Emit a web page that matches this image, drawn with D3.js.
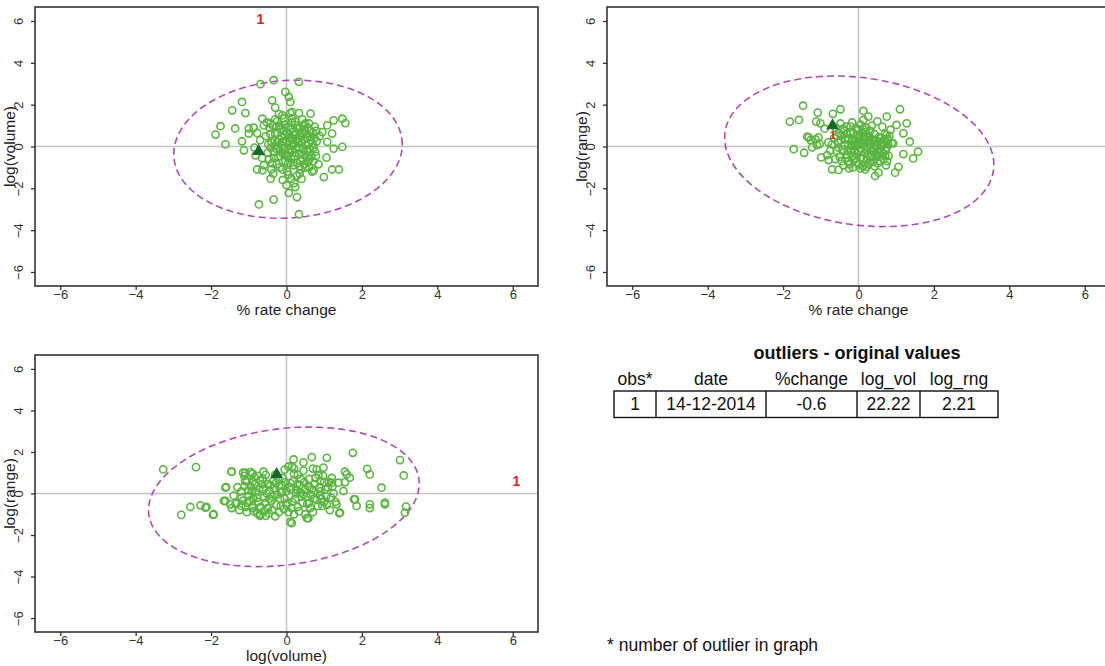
<!DOCTYPE html>
<html>
<head>
<meta charset="utf-8">
<script src="https://cdn.jsdelivr.net/npm/d3@7"></script>
<style>
  body { margin: 0; background: #fff; }
  svg { display: block; font-family: "Liberation Sans", Arial, sans-serif; }
</style>
</head>
<body>
<svg id="chart" width="1105" height="666"></svg>
<script>
// ---- data (data units) ----
var ticks = [-6, -4, -2, 0, 2, 4, 6];

// top-left: % rate change vs log(volume)
var changeVolume = [
  [-0.34,3.17],[-0.69,2.98],[0.33,3.09],[-0.03,2.61],[0.06,2.37],[-0.38,2.21],[-0.3,1.86],[0.1,2.13],
  [-1.18,2.13],[-1.44,1.73],[-1.09,1.6],[-1.75,0.97],[-1.88,0.57],[-1.36,0.86],[-1.62,0.1],[-1.18,0.25],
  [-1.0,0.86],[-0.87,0.9],[-1.0,0.62],[-0.78,0.65],[-1.13,-0.18],[-0.82,-0.42],[-0.78,-1.1],[-0.64,-1.14],
  [-0.73,-2.77],[-0.34,-2.54],[0.33,-3.24],[0.06,-2.22],[0.28,-2.42],[0.23,-1.94],[-0.42,-1.54],[0.72,-1.14],
  [0.99,-1.46],[1.21,-1.1],[1.39,-1.1],[1.06,-0.53],[1.25,-0.1],[1.48,-0.02],[1.08,0.22],[0.95,0.69],
  [1.08,1.01],[1.25,1.25],[1.48,1.33],[1.56,1.12],[1.21,0.62],[0.64,1.57],[0.33,1.6],[0.15,1.65],
  [-0.11,1.49],[-0.64,1.33],[-0.6,1.01],[-0.43,1.1],[-0.85,-0.05],[-0.7,0.3],[-0.65,-0.55],
  [-0.55,0.5],[-0.5,-0.3],[-0.45,0.9],[-0.4,0.2],[-0.38,-0.8],[-0.35,-1.3],[-0.3,0.6],[-0.28,-0.1],
  [-0.25,1.2],[-0.22,-0.5],[-0.2,0.35],[-0.18,-1.0],[-0.15,0.85],[-0.12,0.05],[-0.1,-0.35],[-0.08,1.35],
  [-0.05,0.55],[-0.03,-0.7],[0,0.2],[0.02,-1.2],[0.05,0.95],[0.07,-0.15],[0.1,0.45],[0.12,-0.55],
  [0.14,1.15],[0.16,0.1],[0.18,-0.9],[0.2,0.7],[0.22,-0.3],[0.25,0.3],[0.27,-1.4],[0.3,1.0],
  [0.32,-0.05],[0.35,0.55],[0.37,-0.7],[0.4,0.2],[0.42,1.3],[0.45,-0.4],[0.48,0.8],[0.5,-1.0],
  [0.52,0.05],[0.55,0.45],[0.58,-0.25],[0.6,1.1],[0.62,-0.6],[0.65,0.3],[0.68,-1.2],[0.7,0.65],
  [0.72,-0.05],[0.75,0.95],[0.78,-0.45],[0.8,0.25],[0.85,-0.85],[0.88,0.5],[-0.6,-0.9],[-0.52,1.15],
  [-0.42,-0.05],[-0.33,-0.55],[-0.27,0.95],[-0.17,-0.2],[-0.07,0.75],[0.03,-0.45],[0.08,0.25],[0.13,-1.55],
  [0.19,0.55],[0.24,-0.1],[0.29,0.85],[0.34,-0.95],[0.39,0.45],[0.44,-0.15],[0.49,1.1],[0.54,-0.5],
  [0.59,0.15],[0.64,0.75],[-0.1,-1.6],[0.0,-1.85],[0.2,-1.75],[0.1,1.6],[-0.2,1.55],[0.4,-1.55],
  [-0.48,0.1],[-0.46,-0.6],[-0.43,0.6],[-0.36,1.0],[-0.34,-0.25],[-0.31,0.3],[-0.26,-0.85],[-0.24,0.65],
  [-0.21,-0.05],[-0.19,1.0],[-0.16,-0.45],[-0.14,0.5],[-0.11,-1.1],[-0.09,0.25],[-0.06,-0.1],[-0.04,1.05],
  [-0.01,-0.45],[0.01,0.65],[0.04,-0.8],[0.06,0.4],[0.09,-0.3],[0.11,0.85],[0.15,-0.15],[0.17,0.35],
  [0.21,-0.45],[0.23,1.2],[0.26,0.6],[0.28,-0.8],[0.31,0.2],[0.33,-0.35],[0.36,0.9],[0.38,-1.1],
  [0.41,0.65],[0.43,-0.6],[0.46,0.35],[0.47,-0.85],[0.51,0.6],[0.53,-0.2],[0.56,0.9],[0.57,-0.75],
  [0.61,-0.1],[0.63,0.5],[0.66,-0.45],[0.69,0.15],[0.71,-0.7],[0.74,0.4],[0.76,-0.25],[0.79,0.75],
  [-0.02,0.9],[0.1,-0.8],[0.3,0.35],[0.2,0.1],[-0.25,0.2],[0.05,-1.35],[0.45,1.0],[-0.4,-1.1],
  [0.6,-1.0],[0.15,1.35],[-0.3,1.3],[0.35,-1.3]
];

// top-right: % rate change vs log(range)
var changeRange = [
  [-1.47,1.95],[-1.82,1.19],[-1.58,1.27],[-1.08,1.62],[-0.68,1.56],[-0.48,1.78],[-1.12,1.19],[-1.01,1.11],
  [-1.36,0.47],[-1.27,0.31],[-1.14,0.34],[-1.03,0.12],[-1.72,-0.13],[-1.44,-0.3],[-1.23,-0.04],[-0.99,-0.52],
  [-0.83,-0.41],[-0.79,-0.65],[-0.7,-1.09],[-0.53,-1.12],[0.75,1.43],[1.1,1.78],[1.28,1.11],[1.01,1.03],
  [1.19,0.63],[1.36,0.23],[1.58,-0.25],[1.19,-0.36],[1.45,-0.57],[1.06,-0.97],[0.97,-1.25],[0.53,-1.25],
  [0.44,-1.41],[0.22,-0.97],[0.75,0.55],[0.92,0.15],[0.26,1.43],[0.13,1.27],[-1.32,0.44],[-1.06,0.44],
  [-1.1,0.07],[0.13,1.7],[-0.9,0.85],[-0.8,0.2],[-0.75,-0.2],
  [-0.6,0.9],[-0.55,0.2],[-0.5,-0.5],[-0.48,1.1],[-0.45,0.55],[-0.42,-0.15],[-0.4,-0.9],[-0.35,0.35],
  [-0.32,0.95],[-0.3,-0.4],[-0.27,0.1],[-0.25,-1.05],[-0.22,0.7],[-0.2,-0.2],[-0.17,1.15],[-0.15,0.4],
  [-0.12,-0.65],[-0.1,0.05],[-0.07,0.85],[-0.05,-0.35],[-0.02,0.55],[0,-0.85],[0.03,0.2],[0.05,1.05],
  [0.08,-0.1],[0.1,0.65],[0.13,-0.55],[0.15,0.3],[0.18,-1.1],[0.2,0.9],[0.23,0.0],[0.25,-0.4],
  [0.28,0.5],[0.3,-0.75],[0.33,0.15],[0.35,1.0],[0.38,-0.25],[0.4,0.3],[0.43,-0.95],[0.45,0.05],
  [0.48,-0.5],[0.5,1.2],[0.53,0.25],[0.55,-0.15],[0.58,-0.7],[0.6,0.4],[0.63,0.95],[0.65,-0.35],
  [0.68,0.1],[0.7,0.6],[0.73,-0.9],[0.75,-0.05],[0.78,0.35],[0.8,-0.45],[0.85,0.8],[0.88,0.15],
  [-0.58,-0.2],[-0.52,0.65],[-0.38,0.75],[-0.28,-0.7],[-0.18,0.25],[-0.08,-0.55],[0.02,0.4],[0.12,0.85],
  [0.22,-0.6],[0.32,-0.05],[0.42,0.6],[0.52,-0.3],[0.62,0.2],[0.72,-0.2],[-0.65,0.4],[-0.62,-0.6],[-0.7,0.1],
  [-0.57,0.5],[-0.53,-0.05],[-0.47,0.3],[-0.44,-0.7],[-0.41,0.85],[-0.37,0.05],[-0.34,-0.55],[-0.31,0.6],
  [-0.29,-0.15],[-0.26,0.35],[-0.23,-0.85],[-0.21,0.95],[-0.19,0.0],[-0.16,-0.45],[-0.14,0.65],[-0.11,-0.2],
  [-0.09,0.3],[-0.06,-0.75],[-0.04,0.2],[-0.01,0.8],[0.01,-0.2],[0.04,0.55],[0.06,-0.55],[0.09,0.15],
  [0.11,-0.95],[0.14,0.45],[0.16,-0.3],[0.19,0.7],[0.21,-0.15],[0.24,0.25],[0.26,-0.85],[0.29,0.1],
  [0.31,0.75],[0.34,-0.5],[0.36,0.35],[0.39,-0.75],[0.41,-0.1],[0.44,0.25],[0.46,-0.35],[0.49,0.05],
  [0.51,-0.8],[0.54,0.45],[0.56,-0.5],[0.59,0.05],[0.61,-0.25],[0.64,0.15],[0.66,-0.6],[0.69,0.35],
  [0.71,-0.45],[0.74,0.2],[0.76,-0.7],[0.79,0.1],[0.82,0.5],[-0.05,0.0],[0.0,0.1],[0.1,0.35],
  [0.2,0.45],[0.3,0.3],[-0.15,-1.0],[0.05,-1.05]
];

// bottom-left: log(volume) vs log(range)
var volumeRange = [
  [-3.27,1.16],[-2.4,1.27],[-2.79,-1.03],[-2.55,-0.65],[-2.28,-0.57],[-2.12,-0.65],[-1.95,-1.03],[-1.6,0.31],
  [-1.46,1.05],[-1.09,1.0],[-0.95,1.03],[-1.05,0.6],[-0.9,0.55],[-1.62,-0.36],[-1.49,-0.52],[-1.32,-0.45],
  [-1.2,-0.6],[-1.02,-0.45],[-0.9,-0.7],[-0.78,-0.95],[-0.55,-1.08],[-0.61,1.05],[-0.78,0.85],[-0.7,0.62],
  [0.14,-1.43],[0.58,-1.19],[0.67,1.75],[1.07,1.72],[1.76,1.96],[1.55,1.05],[1.6,0.92],[1.68,0.76],
  [2.14,1.19],[2.21,0.92],[2.52,0.28],[3.01,1.61],[3.11,0.87],[3.17,-0.63],[3.14,-0.92],[2.61,-0.52],
  [2.21,-0.52],[2.21,-0.7],[1.86,-0.6],[1.79,-0.28],[1.4,-0.95],[1.33,-0.52],[1.51,0.12],[1.38,0.52],
  [1.55,0.55],[1.2,0.52],[0.8,1.16],[0.98,1.25],[0.19,1.64],[0.45,1.5],[0.2,1.2],[0.05,1.3],
  [2.61,-0.44],[1.82,-0.28],[1.42,-0.92],[0.54,-1.19],[0.1,-1.37],[-0.7,-1.08],[-1.93,-1.0],[-2.15,-0.68],
  [-1.66,-0.36],[-1.62,0.28],[-1.45,1.05],[-1.15,1.0],[-1.12,0.85],
  [-1.4,-0.1],[-1.35,-0.5],[-1.3,0.3],[-1.25,-0.8],[-1.2,0.1],[-1.15,-0.35],[-1.1,0.6],[-1.05,-0.9],
  [-1.0,-0.1],[-0.95,0.35],[-0.9,-0.6],[-0.85,0.8],[-0.8,0.05],[-0.75,-0.4],[-0.7,-1.0],[-0.65,0.45],
  [-0.6,-0.2],[-0.55,0.9],[-0.5,-0.7],[-0.45,0.15],[-0.4,-0.35],[-0.35,0.6],[-0.3,-1.1],[-0.25,-0.05],
  [-0.2,0.35],[-0.15,-0.6],[-0.1,0.75],[-0.05,-0.25],[0,0.1],[0.05,-0.9],[0.1,0.5],[0.15,-0.4],
  [0.2,0.95],[0.25,0.0],[0.3,-0.65],[0.35,0.4],[0.4,-0.15],[0.45,1.1],[0.5,0.2],[0.55,-0.5],
  [0.6,0.7],[0.65,-0.05],[0.7,-0.9],[0.75,0.45],[0.8,-0.3],[0.85,0.9],[0.9,0.1],[0.95,-0.6],
  [1.0,0.55],[1.05,-0.15],[1.1,0.3],[1.15,-0.8],[1.2,0.75],[1.25,0.0],[1.3,-0.4],[-1.45,-0.7],
  [-0.88,-0.25],[-0.62,0.2],[-0.38,-0.8],[-0.12,0.1],[0.12,0.2],[0.38,0.7],[0.62,0.3],[0.88,-0.1],
  [-0.28,0.5],[0.28,0.45],[0.5,-1.0],[-0.05,1.15],[0.15,1.3],[0.7,1.2],[-0.5,0.45],[-0.2,-0.9],[1.0,-0.4],
  [-1.18,-0.2],[-1.12,0.35],[-1.08,-0.65],[-1.02,0.15],[-0.98,-0.35],[-0.92,0.1],[-0.87,-0.85],[-0.83,0.45],
  [-0.77,-0.2],[-0.72,0.25],[-0.68,-0.65],[-0.63,0.7],[-0.57,-0.45],[-0.53,0.0],[-0.47,-0.95],[-0.43,0.4],
  [-0.37,-0.15],[-0.33,0.25],[-0.27,-0.55],[-0.23,0.7],[-0.17,-0.25],[-0.13,0.4],[-0.07,-0.75],[-0.03,0.55],
  [0.03,-0.45],[0.07,0.3],[0.13,-0.7],[0.17,0.6],[0.23,-0.25],[0.27,0.2],[0.33,-0.85],[0.37,0.05],
  [0.43,-0.45],[0.47,0.55],[0.53,-0.15],[0.57,0.35],[0.63,-0.7],[0.67,0.2],[0.73,-0.25],[0.77,0.75],
  [0.83,-0.6],[0.87,0.3],[0.93,-0.25],[0.97,0.85],[1.03,0.2],[1.07,-0.55],[1.13,0.55],[1.18,-0.2],
  [1.22,0.35],[-0.9,0.95],[-0.3,0.9],[0.3,0.9],[0.9,0.6],[-0.6,-0.85],[0.0,-0.55],[0.6,-0.45],
  [-0.15,0.05],[0.45,-0.05],[-0.45,-0.25],[0.2,-1.0]
];

// centroids (triangles), outlier label positions, ellipses [cx, cy, sx, sy, rho]
var centers = [[-0.74,-0.23], [-0.69,1.0], [-0.26,0.92]];
var outlierPos = [[-0.69,6.1], [-0.68,0.55], [6.1,0.58]];
var outlierSize = [14, 11, 14];
var ellipses = [
  [0.04,-0.13,3.03,3.3,0.07],
  [0.02,-0.23,3.57,3.6,-0.18],
  [-0.07,-0.16,3.59,3.36,0.19]
];
var xTitles = ["% rate change", "% rate change", "log(volume)"];
var yTitles = ["log(volume)", "log(range)", "log(range)"];
var pointSets = [changeVolume, changeRange, volumeRange];

// outlier table
var tableTitle = "outliers - original values";
var tableHeader = ["obs*", "date", "%change", "log_vol", "log_rng"];
var tableRow = ["1", "14-12-2014", "-0.6", "22.22", "2.21"];
var footnote = "* number of outlier in graph";

// ---- layout ----
var panels = [
  {left: 35, top: 7, w: 503, h: 279},
  {left: 607, top: 7, w: 503, h: 279},
  {left: 35, top: 355, w: 503, h: 277}
];
var lim = 6.67;

var svg = d3.select('#chart');

panels.forEach(function(p, i) {
  var x = d3.scaleLinear().domain([-lim, lim]).range([p.left, p.left + p.w]);
  var y = d3.scaleLinear().domain([-lim, lim]).range([p.top + p.h, p.top]);

  var clipId = 'clip' + i;
  svg.append('clipPath').attr('id', clipId)
    .append('rect').attr('x', p.left).attr('y', p.top).attr('width', p.w).attr('height', p.h);

  var g = svg.append('g');
  var inner = g.append('g').attr('clip-path', 'url(#' + clipId + ')');

  // zero reference lines
  inner.append('line')
    .attr('x1', x(-lim)).attr('x2', x(lim)).attr('y1', y(0)).attr('y2', y(0))
    .attr('stroke', '#c4c4c4').attr('stroke-width', 1.5);
  inner.append('line')
    .attr('x1', x(0)).attr('x2', x(0)).attr('y1', y(-lim)).attr('y2', y(lim))
    .attr('stroke', '#c4c4c4').attr('stroke-width', 1.5);

  // ellipse
  var e = ellipses[i];
  var angles = d3.range(0, 361, 3).map(function(a) { return a * Math.PI / 180; });
  var ell = d3.line()
    .x(function(t) { return x(e[0] + e[2] * Math.cos(t)); })
    .y(function(t) { return y(e[1] + e[3] * (e[4] * Math.cos(t) + Math.sqrt(1 - e[4] * e[4]) * Math.sin(t))); });
  inner.append('path').datum(angles).attr('d', ell)
    .attr('fill', 'none').attr('stroke', '#b048b8').attr('stroke-width', 1.6)
    .attr('stroke-dasharray', '7,4');

  // points
  inner.selectAll('circle.pt').data(pointSets[i]).join('circle')
    .attr('class', 'pt')
    .attr('cx', function(d) { return x(d[0]); })
    .attr('cy', function(d) { return y(d[1]); })
    .attr('r', 3.6)
    .attr('fill', 'none')
    .attr('stroke', '#5ab540')
    .attr('stroke-width', 1.6);

  // centroid triangle
  var c = centers[i];
  inner.append('path')
    .attr('d', d3.symbol().type(d3.symbolTriangle).size(70)())
    .attr('transform', 'translate(' + x(c[0]) + ',' + y(c[1]) + ')')
    .attr('fill', '#17692b');

  // outlier number
  var o = outlierPos[i];
  inner.append('text')
    .attr('x', x(o[0])).attr('y', y(o[1]))
    .attr('text-anchor', 'middle').attr('dominant-baseline', 'central')
    .attr('font-weight', 'bold').attr('font-size', outlierSize[i] + 'px')
    .attr('fill', '#e02020')
    .text('1');

  // frame
  g.append('rect')
    .attr('x', p.left).attr('y', p.top).attr('width', p.w).attr('height', p.h)
    .attr('fill', 'none').attr('stroke', '#333').attr('stroke-width', 1.6);

  // axes
  var xa = g.append('g')
    .attr('transform', 'translate(0,' + (p.top + p.h) + ')')
    .call(d3.axisBottom(x).tickValues(ticks).tickSize(4).tickSizeOuter(0));
  var ya = g.append('g')
    .attr('transform', 'translate(' + p.left + ',0)')
    .call(d3.axisLeft(y).tickValues(ticks).tickSize(4).tickSizeOuter(0));
  [xa, ya].forEach(function(a) {
    a.select('.domain').remove();
    a.selectAll('.tick line').attr('stroke', '#333').attr('stroke-width', 1.3);
    a.selectAll('.tick text').attr('fill', '#333').attr('font-size', '13px')
      .attr('font-family', '"Liberation Sans", Arial, sans-serif');
  });
  xa.selectAll('.tick text').attr('dy', '0.8em').attr('y', 3);
  ya.selectAll('.tick text')
    .attr('x', null).attr('dy', null)
    .attr('text-anchor', 'middle')
    .attr('transform', 'translate(-12,0) rotate(-90)')
    .attr('y', 0);

  // axis titles
  g.append('text')
    .attr('x', x(0)).attr('y', p.top + p.h + 29)
    .attr('text-anchor', 'middle').attr('font-size', '15.5px').attr('fill', '#222')
    .text(xTitles[i]);
  g.append('text')
    .attr('transform', 'translate(' + (p.left - 20) + ',' + y(0) + ') rotate(-90)')
    .attr('text-anchor', 'middle').attr('font-size', '15.5px').attr('fill', '#222')
    .text(yTitles[i]);
});

// ---- outlier table ----
var cellEdges = [614, 656, 766, 857, 920, 998];
var tableTop = 391, rowH = 26.5;

svg.append('text')
  .attr('x', 857).attr('y', 359)
  .attr('text-anchor', 'middle').attr('font-weight', 'bold').attr('font-size', '18px').attr('fill', '#111')
  .text(tableTitle);

svg.append('g').selectAll('text').data(tableHeader).join('text')
  .attr('x', function(d, i) { return (cellEdges[i] + cellEdges[i + 1]) / 2; })
  .attr('y', 385)
  .attr('text-anchor', 'middle').attr('font-size', '17.5px').attr('fill', '#111')
  .text(function(d) { return d; });

svg.append('rect')
  .attr('x', cellEdges[0]).attr('y', tableTop)
  .attr('width', cellEdges[5] - cellEdges[0]).attr('height', rowH)
  .attr('fill', 'none').attr('stroke', '#111').attr('stroke-width', 1.4);

svg.append('g').selectAll('line').data(cellEdges.slice(1, 5)).join('line')
  .attr('x1', function(d) { return d; }).attr('x2', function(d) { return d; })
  .attr('y1', tableTop).attr('y2', tableTop + rowH)
  .attr('stroke', '#111').attr('stroke-width', 1.4);

svg.append('g').selectAll('text').data(tableRow).join('text')
  .attr('x', function(d, i) { return (cellEdges[i] + cellEdges[i + 1]) / 2; })
  .attr('y', tableTop + rowH / 2 + 6)
  .attr('text-anchor', 'middle').attr('font-size', '17.5px').attr('fill', '#111')
  .text(function(d) { return d; });

svg.append('text')
  .attr('x', 607).attr('y', 651)
  .attr('font-size', '17.5px').attr('fill', '#111')
  .text(footnote);
</script>
</body>
</html>
